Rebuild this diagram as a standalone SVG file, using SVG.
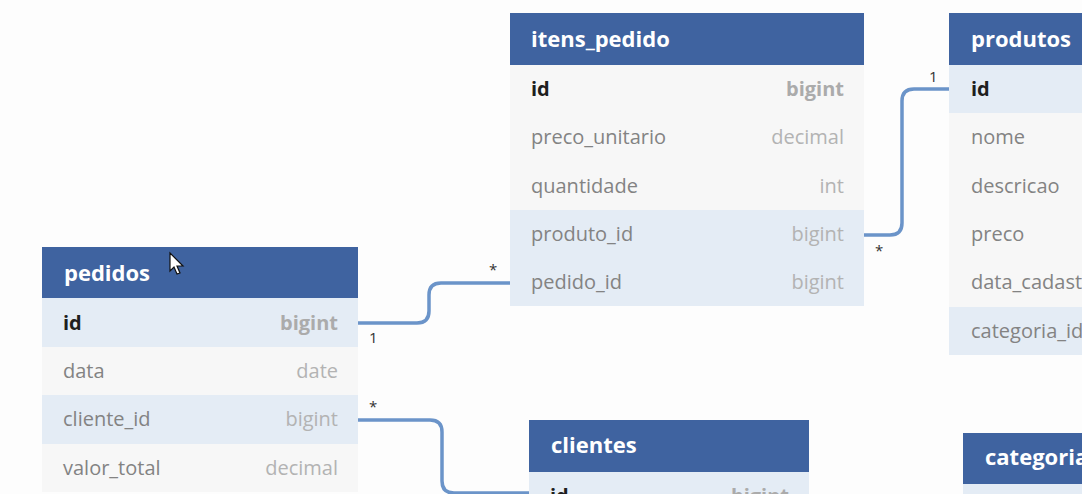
<svg xmlns="http://www.w3.org/2000/svg" width="1082" height="494" viewBox="0 0 1082 494">
  <style>
    .hdr { fill: #3f63a0; }
    .row { fill: #f7f7f7; }
    .rowh { fill: #e4ecf5; }
    .title { font-family: "Open Sans", "Noto Sans", sans-serif; font-weight: 700; font-size: 22px; fill: #ffffff; }
    .fld { font-family: "Open Sans", "Noto Sans", sans-serif; font-size: 20px; fill: #838383; }
    .pk { font-family: "Open Sans", "Noto Sans", sans-serif; font-size: 20px; font-weight: 700; fill: #1e1e1e; }
    .typ { font-family: "Open Sans", "Noto Sans", sans-serif; font-size: 20px; fill: #b3b3b3; text-anchor: end; }
    .pkt { font-family: "Open Sans", "Noto Sans", sans-serif; font-size: 20px; font-weight: 700; fill: #ababab; text-anchor: end; }
    .conn { fill: none; stroke: #6b94c9; stroke-width: 3.5; }
    .lbl { font-family: "Open Sans", "Noto Sans", sans-serif; font-size: 15px; fill: #333333; }
  </style>
  <rect x="0" y="0" width="1082" height="494" fill="#fdfdfd"/>

  <g id="connectors">
    <path class="conn" d="M358,323 H417 Q429,323 429,311 V295 Q429,283 441,283 H510"/>
    <path class="conn" d="M864,235 H890 Q902,235 902,223 V101 Q902,89 914,89 H949"/>
    <path class="conn" d="M358,420 H430 Q442,420 442,432 V481 Q442,493 454,493 H529"/>
    <text class="lbl" x="369" y="343">1</text>
    <text class="lbl" x="489" y="275">*</text>
    <text class="lbl" x="929" y="82">1</text>
    <text class="lbl" x="875" y="256">*</text>
    <text class="lbl" x="369" y="412">*</text>
  </g>

  <g id="itens_pedido">
    <rect class="hdr" x="510" y="13" width="354" height="52"/>
    <rect class="row" x="510" y="65" width="354" height="145"/>
    <rect class="rowh" x="510" y="210" width="354" height="96"/>
    <text class="title" x="531" y="47">itens_pedido</text>
    <text class="pk" x="531" y="96">id</text><text class="pkt" x="844" y="96">bigint</text>
    <text class="fld" x="531" y="144">preco_unitario</text><text class="typ" x="844" y="144">decimal</text>
    <text class="fld" x="531" y="193">quantidade</text><text class="typ" x="844" y="193">int</text>
    <text class="fld" x="531" y="241">produto_id</text><text class="typ" x="844" y="241">bigint</text>
    <text class="fld" x="531" y="289">pedido_id</text><text class="typ" x="844" y="289">bigint</text>
  </g>

  <g id="produtos">
    <rect class="hdr" x="949" y="13" width="200" height="52"/>
    <rect class="rowh" x="949" y="65" width="200" height="48"/>
    <rect class="row" x="949" y="113" width="200" height="194"/>
    <rect class="rowh" x="949" y="307" width="200" height="48"/>
    <text class="title" x="971" y="47">produtos</text>
    <text class="pk" x="971" y="96">id</text>
    <text class="fld" x="971" y="144">nome</text>
    <text class="fld" x="971" y="193">descricao</text>
    <text class="fld" x="971" y="241">preco</text>
    <text class="fld" x="971" y="289">data_cadastro</text>
    <text class="fld" x="971" y="338">categoria_id</text>
  </g>

  <g id="pedidos">
    <rect class="hdr" x="42" y="247" width="316" height="51"/>
    <rect class="rowh" x="42" y="298" width="316" height="49"/>
    <rect class="row" x="42" y="347" width="316" height="48"/>
    <rect class="rowh" x="42" y="395" width="316" height="49"/>
    <rect class="row" x="42" y="444" width="316" height="48"/>
    <text class="title" x="64" y="281">pedidos</text>
    <text class="pk" x="63" y="330">id</text><text class="pkt" x="338" y="330">bigint</text>
    <text class="fld" x="63" y="378">data</text><text class="typ" x="338" y="378">date</text>
    <text class="fld" x="63" y="426">cliente_id</text><text class="typ" x="338" y="426">bigint</text>
    <text class="fld" x="63" y="475">valor_total</text><text class="typ" x="338" y="475">decimal</text>
  </g>

  <g id="clientes">
    <rect class="hdr" x="529" y="420" width="280" height="52"/>
    <rect class="rowh" x="529" y="472" width="280" height="48"/>
    <text class="title" x="551" y="453">clientes</text>
    <text class="pk" x="550" y="503">id</text><text class="pkt" x="789" y="503">bigint</text>
  </g>

  <g id="categorias">
    <rect class="hdr" x="963" y="433" width="200" height="51"/>
    <rect class="rowh" x="963" y="484" width="200" height="48"/>
    <text class="title" x="985" y="465">categorias</text>
  </g>

  <path d="M170,253 L170,271 L174,267 L177,274 L180,273 L177,266 L183,266 Z" fill="#ffffff" stroke="#111111" stroke-width="1.2"/>
</svg>
